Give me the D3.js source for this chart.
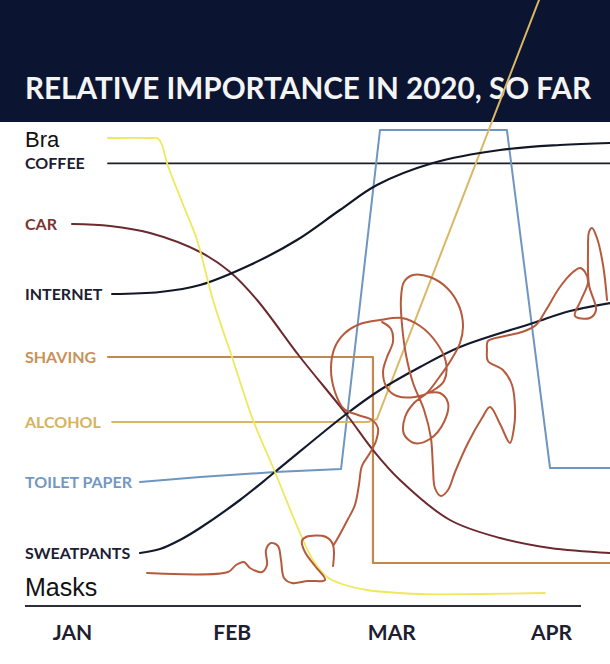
<!DOCTYPE html>
<html><head><meta charset="utf-8">
<script src="https://cdn.jsdelivr.net/npm/d3@7"></script>
<style>html,body{margin:0;padding:0;background:#fff;}svg{display:block}</style>
</head><body>
<svg id="chart" width="610" height="664"></svg>
<script>
// ---------- DATA (x = months since Jan 1, y = relative importance) ----------
const months = ["JAN", "FEB", "MAR", "APR"];
const monthTicks = [0, 1, 2, 3];
const title = "RELATIVE IMPORTANCE IN 2020, SO FAR";

const bra = [[0.225,116.75],[0.495,116.75],[0.539,116.6],[0.564,115],[0.595,110.5],[0.689,100.75],[0.783,91.25],[0.883,76.25],[1.002,62],[1.134,46.25],[1.271,33.25],[1.428,18],[1.509,11.25],[1.597,7],[1.691,5.25],[1.848,3.75],[2.180,2.75],[2.555,2.75],[2.962,3]];
const coffee = [[0.225,110.4],[3.37,110.4]];
const car = [[0,95.25],[0.238,94.75],[0.489,93],[0.802,88.25],[0.990,83.25],[1.159,76.25],[1.428,62],[1.722,47.5],[1.885,38.75],[2.054,31.25],[2.367,21.25],[2.681,16.75],[2.994,14.25],[3.370,13]];
const internet = [[0.251,77.75],[0.551,78.25],[0.802,80],[1.115,85],[1.409,91.25],[1.678,98.75],[1.910,105],[2.261,110.5],[2.681,113.75],[3.056,115],[3.370,115.5]];
const shaving = [[0.225,62],[1.885,62],[1.885,10.5],[3.370,10.5]];
const alcohol = [[0.251,45.75],[1.854,45.75],[1.910,46.5],[2.925,151.25]];
const toiletPaper = [[0.426,30.75],[0.802,32],[1.271,33.25],[1.685,34],[1.929,118.75],[2.724,118.75],[2.994,34.25],[3.370,34.25]];
const sweatpants = [[0.426,13],[0.551,14],[0.676,16.25],[0.802,19.25],[1.052,26.25],[1.271,33.25],[1.710,47.5],[1.929,53.75],[2.180,59.5],[2.430,64.5],[2.887,70.5],[3.119,73.5],[3.370,75.5]];
const masks = [
  [0.470,8],[0.977,8.25],[1.027,10],[1.077,10.75],[1.115,9.25],[1.190,8.25],[1.221,10],[1.215,13.75],[1.246,15.5],[1.290,14.75],[1.309,11.25],[1.328,6.75],[1.378,5.5],[1.478,6],[1.585,6.25],[1.522,9.75],[1.459,13.25],[1.440,16],[1.466,17],[1.591,17],[1.635,15],[1.635,9.75],
  null,
  [1.635,14.75],[1.672,17.25],[1.722,21],[1.772,25],[1.797,30],[1.816,34.75],[1.866,38],[1.904,41],[1.916,44.25],[1.879,46.25],[1.791,47.5],[1.704,49],[1.647,53.25],[1.622,59.25],[1.647,64.5],[1.710,68],[1.804,70.25],[1.929,71.25],[2.067,71.75],[2.180,69.75],[2.280,65.75],[2.342,60.75],[2.330,56],[2.255,53.5],[2.148,52],[2.035,52.25],[1.973,54.25],[1.948,58.25],[1.973,62],[2.010,65.75],[1.998,69],[1.942,70.75],
  null,
  [2.223,53],[2.305,53],[2.355,50.5],[2.330,45.75],[2.242,41.5],[2.142,40.5],[2.079,42.75],[2.086,47],[2.142,50.5],[2.223,53],[2.292,56.5],[2.374,61.25],[2.430,65.5],[2.449,69.75],[2.424,74.75],[2.349,79.25],[2.242,82],[2.136,82.5],[2.079,80.75],[2.060,76.25],[2.067,70],[2.092,62.5],[2.136,55.5],[2.205,48.75],[2.248,41.75],[2.261,34.25],[2.273,29.25],[2.311,27.25],[2.355,28.75],[2.399,33.25],[2.480,40.5],[2.568,46.75],[2.618,49.5],[2.681,45.25],[2.743,40.5],[2.768,44.25],[2.775,48.75],[2.756,55],[2.699,58.75],[2.605,61],[2.599,63.75],[2.605,66],[2.712,67.25],[2.818,68.25],[2.906,70],[2.969,73.75],[3.056,79.5],[3.138,83.25],[3.182,84.25],[3.213,83.25],[3.232,80.75],[3.188,76.25],[3.150,72.25],[3.244,71.75],[3.282,73.75],[3.238,80],[3.232,88.75],[3.238,93.25],[3.257,94.25],[3.288,91.75],[3.326,85],[3.351,76.25]
];

// ---------- STYLES ----------
const series = [
  {name:"COFFEE", data:coffee, stroke:"#1c1d2a", w:1.6, curve:d3.curveLinear, lab:"#1c2033"},
  {name:"TOILET PAPER", data:toiletPaper, stroke:"#6f95c1", w:2, curve:d3.curveLinear, lab:"#7498c1"},
  {name:"SHAVING", data:shaving, stroke:"#c4884f", w:2.2, curve:d3.curveLinear, lab:"#c99159"},
  {name:"ALCOHOL", data:alcohol, stroke:"#d9b865", w:2, curve:d3.curveLinear, lab:"#d6b361"},
  {name:"CAR", data:car, stroke:"#6c2a30", w:2, curve:d3.curveCatmullRom.alpha(0.5), lab:"#7b3434"},
  {name:"INTERNET", data:internet, stroke:"#121726", w:2.2, curve:d3.curveCatmullRom.alpha(0.5), lab:"#1c2033"},
  {name:"SWEATPANTS", data:sweatpants, stroke:"#141a2e", w:2.2, curve:d3.curveCatmullRom.alpha(0.5), lab:"#1c2033"},
  {name:"Bra", data:bra, stroke:"#efe85c", w:1.8, curve:d3.curveCatmullRom.alpha(0.5), lab:null},
  {name:"Masks", data:masks, stroke:"#b65a3e", w:2, curve:d3.curveCatmullRom.alpha(0.5), lab:null}
];

const svg = d3.select("#chart");
const W = 610, H = 664;
svg.append("rect").attr("width", W).attr("height", H).attr("fill", "#fff");

const x = d3.scaleLinear().domain([0, 3]).range([72, 551]);
const y = d3.scaleLinear().domain([0, 120]).range([605, 125]);

// header
svg.append("rect").attr("x", 0).attr("y", 0).attr("width", W).attr("height", 122).attr("fill", "#0b1532");
svg.append("text").attr("transform", "translate(25,99) scale(1,1.2)").text(title)
  .attr("fill", "#f4f4f4").attr("font-family", "Lato, 'Open Sans', sans-serif").attr("font-weight", 700)
  .attr("font-size", 26).attr("textLength", 566).attr("lengthAdjust", "spacingAndGlyphs");

// axis
svg.append("line").attr("x1", 25).attr("x2", 581).attr("y1", 606).attr("y2", 606)
  .attr("stroke", "#2b2e3b").attr("stroke-width", 2);
const ax = svg.append("g").attr("transform", "translate(0,606)")
  .call(d3.axisBottom(x).tickValues(monthTicks).tickFormat(i => months[i]).tickSize(0).tickPadding(19));
ax.select(".domain").remove();
ax.selectAll("text").attr("font-family", "Lato, sans-serif").attr("font-weight", 700)
  .attr("font-size", 21).attr("fill", "#1d2030");

// lines
const line = d3.line().defined(d => d !== null).x(d => x(d[0])).y(d => y(d[1]));
series.forEach(s => {
  svg.append("path").datum(s.data)
    .attr("d", line.curve(s.curve))
    .attr("fill", "none").attr("stroke", s.stroke).attr("stroke-width", s.w)
    .attr("stroke-linejoin", "round").attr("stroke-linecap", "round");
});

// labels
series.filter(s => s.lab).forEach(s => {
  svg.append("text").attr("x", 25).attr("y", y(s.data[0][1]) + 6).text(s.name)
    .attr("fill", s.lab).attr("font-family", "Lato, sans-serif").attr("font-weight", 700).attr("font-size", 16);
});
svg.append("text").attr("x", 25).attr("y", 147).text("Bra")
  .attr("fill", "#111").attr("font-family", "'Liberation Sans', Arial, sans-serif").attr("font-size", 22);
svg.append("text").attr("x", 25).attr("y", 596).text("Masks")
  .attr("fill", "#111").attr("font-family", "'Liberation Sans', Arial, sans-serif").attr("font-size", 25);
</script>
</body></html>
